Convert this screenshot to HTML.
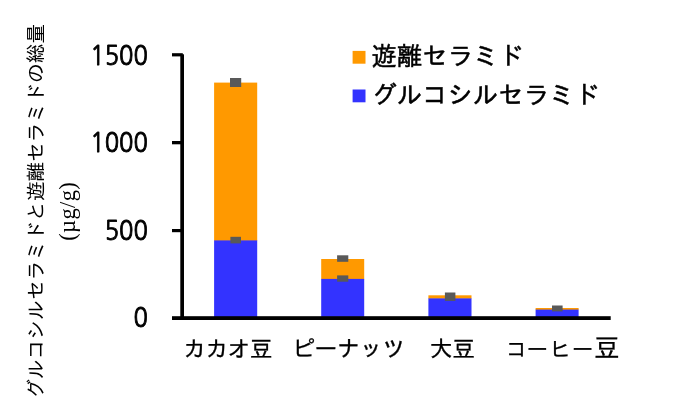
<!DOCTYPE html>
<html lang="ja">
<head>
<meta charset="utf-8">
<title>グルコシルセラミドと遊離セラミドの総量</title>
<style>
html,body{margin:0;padding:0;background:#fff;}
body{width:680px;height:412px;overflow:hidden;}
svg{display:block;}
.jp{font-family:"Liberation Sans","IPAGothic","Noto Sans CJK JP",sans-serif;fill:#000;}
.num{font-family:"NanumGothic","Liberation Sans",sans-serif;fill:#000;}
.ser{font-family:"Liberation Serif",serif;fill:#000;}
</style>
</head>
<body>
<svg width="680" height="412" viewBox="0 0 680 412">
<rect width="680" height="412" fill="#fff"/>

<!-- bars -->
<g>
<rect x="214.1" y="82.6" width="43.1" height="158.3" fill="#ff9900"/>
<rect x="214.1" y="240.4" width="43.1" height="77" fill="#3333ff"/>
<rect x="321.2" y="259" width="43" height="20.3" fill="#ff9900"/>
<rect x="321.2" y="278.9" width="43" height="38" fill="#3333ff"/>
<rect x="428.4" y="295.3" width="43.1" height="3.5" fill="#ff9900"/>
<rect x="428.4" y="298.4" width="43.1" height="19" fill="#3333ff"/>
<rect x="535.6" y="308" width="43" height="2" fill="#ff9900"/>
<rect x="535.6" y="309.6" width="43" height="8" fill="#3333ff"/>
</g>

<!-- error markers -->
<g fill="#595959">
<rect x="230" y="78" width="11.2" height="9"/>
<rect x="230.4" y="236.8" width="10.6" height="6.6"/>
<rect x="337.1" y="255.3" width="11.2" height="6.5"/>
<rect x="337.1" y="275.4" width="11.2" height="6.3"/>
<rect x="444.9" y="292.5" width="10.5" height="8.4"/>
<rect x="552" y="305.5" width="10.6" height="5.9"/>
</g>

<!-- axes -->
<g fill="#000">
<rect x="180.3" y="54.3" width="3.7" height="265.7"/>
<rect x="172" y="316.2" width="438.7" height="3.8"/>
<rect x="172" y="53.2" width="10.8" height="3.2"/>
<rect x="172" y="141" width="10" height="3.3"/>
<rect x="172" y="229" width="10" height="3.2"/>
</g>

<!-- tick labels -->
<g class="num" font-size="27.2" text-anchor="end" stroke="#000" stroke-width="0.95" stroke-linejoin="round">
<text x="147.9" y="65.1" textLength="57.6" lengthAdjust="spacingAndGlyphs">1500</text>
<text x="147.9" y="152.2" textLength="57.6" lengthAdjust="spacingAndGlyphs">1000</text>
<text x="147.9" y="239.9" textLength="43.2" lengthAdjust="spacingAndGlyphs">500</text>
<text x="147.9" y="326.7" textLength="14.4" lengthAdjust="spacingAndGlyphs">0</text>
</g>

<!-- category labels -->
<g class="jp" font-size="22.8" stroke="#000" stroke-width="0.3">
<text x="183" y="356.8" letter-spacing="-0.5">カカオ豆</text>
<text x="292" y="356.8" letter-spacing="-0.2">ピーナッツ</text>
<text x="429.8" y="356.8">大豆</text>
<text y="356.8"><tspan font-size="21.2" x="505.9 526.8 549.8 572.1">コーヒー</tspan><tspan font-size="25.7" x="594" dy="-0.2">豆</tspan></text>
</g>

<!-- legend -->
<rect x="352.6" y="50.9" width="12.9" height="12.8" fill="#ff9900"/>
<rect x="352.6" y="89.5" width="12.9" height="12.8" fill="#3333ff"/>
<g class="jp" font-size="25.35" stroke="#000" stroke-width="0.5">
<text x="371.6" y="64.6">遊離セラミド</text>
<text x="371.6" y="104.1">グルコシルセラミド</text>
</g>

<!-- y axis title -->
<text class="jp" font-size="19.74" transform="translate(43.3,398.7) rotate(-90)">グルコシルセラミドと遊離セラミドの総量</text>
<text class="ser" font-size="22.6" transform="translate(75.1,240.8) rotate(-90)" textLength="58.6" lengthAdjust="spacing">(µg/g)</text>
</svg>
</body>
</html>
